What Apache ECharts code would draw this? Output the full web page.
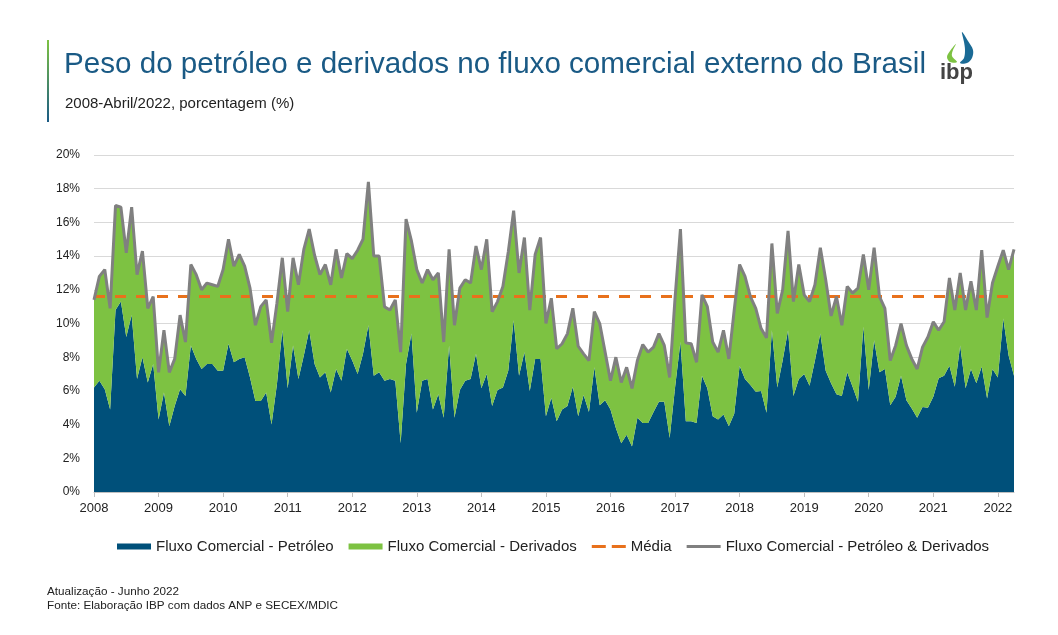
<!DOCTYPE html>
<html>
<head>
<meta charset="utf-8">
<script src="https://cdn.jsdelivr.net/npm/echarts@6/dist/echarts.min.js"></script>
<style>
html,body{margin:0;padding:0;background:#fff;}
#chart{width:1058px;height:635px;}
</style>
</head>
<body>
<div id="chart"></div>
<script>
// ---- data (monthly, Jan/2008 - Apr/2022, %) ----
const yearLabels = ['2008','2009','2010','2011','2012','2013','2014','2015','2016','2017','2018','2019','2020','2021','2022'];
const monthLabels = ['01','02','03','04','05','06','07','08','09','10','11','12'];
const lastPeriod = '2022-04';

const petroleo = [
 6.2,6.6,6.1,4.9,10.8,11.3,9.2,10.5,6.7,8.0,6.5,7.6,
 4.3,5.9,3.9,5.1,6.1,5.7,8.7,7.9,7.3,7.6,7.6,7.2,
 7.2,8.8,7.7,7.9,8.0,6.8,5.4,5.4,5.9,4.0,6.4,9.6,
 6.15,8.7,6.7,8.1,9.6,7.6,6.8,7.1,5.9,7.3,6.6,8.5,
 7.8,7.0,8.2,9.9,6.9,7.1,6.6,6.7,6.6,2.9,7.6,9.4,
 4.7,6.6,6.7,4.9,5.8,4.4,8.7,4.4,6.05,6.6,6.7,8.2,
 6.15,7.0,5.1,6.05,6.2,7.2,10.2,6.9,8.3,6.0,7.9,7.9,
 4.5,5.6,4.2,4.9,5.1,6.25,4.5,5.75,4.75,7.4,5.15,5.45,
 4.9,3.8,2.9,3.4,2.7,4.4,4.1,4.1,4.75,5.35,5.35,3.2,
 6.2,8.9,4.2,4.2,4.1,6.9,6.15,4.5,4.3,4.6,3.9,4.65,
 7.5,6.7,6.35,5.95,6.0,4.7,9.6,6.2,7.8,9.6,5.7,6.7,
 7.0,6.3,7.8,9.4,7.2,6.45,5.8,5.7,7.1,6.25,5.35,9.8,
 6.05,9.0,7.1,7.3,5.15,5.65,6.9,5.45,4.95,4.4,5.05,5.0,
 5.65,6.75,6.9,7.5,6.25,8.7,6.15,7.3,6.45,7.45,5.55,7.3,
 6.8,10.3,8.1,6.9
];
const derivados = [
 5.2,6.2,7.1,6.0,6.2,5.6,5.0,6.4,6.2,6.3,4.4,4.0,
 2.8,3.7,3.2,2.8,4.4,3.2,4.8,5.0,4.7,4.8,4.7,5.0,
 6.0,6.2,5.7,6.2,5.4,5.3,4.5,5.6,5.5,4.85,4.8,4.3,
 4.55,5.2,5.6,6.3,6.0,6.45,6.1,6.4,6.4,7.1,6.1,5.65,
 6.05,7.35,6.8,8.5,7.1,6.9,4.4,4.1,4.8,5.4,8.6,5.5,
 8.5,5.8,6.5,7.7,7.2,4.5,5.7,5.5,6.05,6.0,5.7,6.4,
 7.05,8.0,5.6,5.25,6.0,7.05,6.5,6.1,6.8,4.8,6.2,7.2,
 5.5,5.9,4.3,3.9,4.3,4.65,4.15,2.45,3.05,3.3,4.85,2.85,
 1.7,4.2,3.6,4.0,3.45,3.4,4.65,4.2,3.85,4.05,3.35,3.6,
 5.3,6.7,4.65,4.6,3.6,4.8,4.85,4.4,4.0,5.0,4.0,6.15,
 6.0,6.1,5.25,4.95,3.7,4.45,5.15,4.4,4.2,5.9,5.6,6.8,
 4.7,5.0,4.5,5.1,5.4,4.0,5.8,4.2,5.1,5.55,6.75,4.3,
 5.95,5.5,4.5,3.6,2.65,3.05,3.1,3.25,2.95,2.9,3.55,4.2,
 4.45,2.85,3.2,5.2,4.55,4.3,4.65,5.2,4.35,6.9,4.8,5.1,
 6.6,4.05,5.1,7.5
];
const total = [
 11.4,12.8,13.2,10.9,17.0,16.9,14.2,16.9,12.9,14.3,10.9,11.6,
 7.1,9.6,7.1,7.9,10.5,8.9,13.5,12.9,12.0,12.4,12.3,12.2,
 13.2,15.0,13.4,14.1,13.4,12.1,9.9,11.0,11.4,8.85,11.2,13.9,
 10.7,13.9,12.3,14.4,15.6,14.05,12.9,13.5,12.3,14.4,12.7,14.15,
 13.85,14.35,15.0,18.4,14.0,14.0,11.0,10.8,11.4,8.3,16.2,14.9,
 13.2,12.4,13.2,12.6,13.0,8.9,14.4,9.9,12.1,12.6,12.4,14.6,
 13.2,15.0,10.7,11.3,12.2,14.25,16.7,13.0,15.1,10.8,14.1,15.1,
 10.0,11.5,8.5,8.8,9.4,10.9,8.65,8.2,7.8,10.7,10.0,8.3,
 6.6,8.0,6.5,7.4,6.15,7.8,8.75,8.3,8.6,9.4,8.7,6.8,
 11.5,15.6,8.85,8.8,7.7,11.7,11.0,8.9,8.3,9.6,7.9,10.8,
 13.5,12.8,11.6,10.9,9.7,9.15,14.75,10.6,12.0,15.5,11.3,13.5,
 11.7,11.3,12.3,14.5,12.6,10.45,11.6,9.9,12.2,11.8,12.1,14.1,
 12.0,14.5,11.6,10.9,7.8,8.7,10.0,8.7,7.9,7.3,8.6,9.2,
 10.1,9.6,10.1,12.7,10.8,13.0,10.8,12.5,10.8,14.35,10.35,12.4,
 13.4,14.35,13.2,14.4
];
const media = 11.6;
const yTicks = [0,2,4,6,8,10,12,14,16,18,20];

// month categories
const categories = [];
for (const y of yearLabels) {
  for (const m of monthLabels) {
    const p = y + '-' + m;
    if (p > lastPeriod) break;
    categories.push(p);
  }
}

const C_BLUE = '#00507a';
const C_GREEN = '#7dc242';
const C_ORANGE = '#e8711c';
const C_GRAY = '#808080';
const FONT = 'Liberation Sans';

const ICON_LINE = 'path://M0,0 L0.01,0 L0.01,0.01 Z M0,1.5 L34,1.5 L34,4.5 L0,4.5 Z M33.99,5.99 L34,5.99 L34,6 Z';
const ICON_DASH = 'path://M0,0 L0.01,0 L0.01,0.01 Z M0,1.5 L14,1.5 L14,4.5 L0,4.5 Z M20,1.5 L34,1.5 L34,4.5 L20,4.5 Z M33.99,5.99 L34,5.99 L34,6 Z';

const chart = echarts.init(document.getElementById('chart'), null, {renderer:'canvas'});
const option = {
  backgroundColor: '#ffffff',
  animation: false,
  textStyle: {fontFamily: FONT},
  graphic: [
    {type:'rect', x:47, y:40, shape:{x:0, y:0, width:2, height:82},
     style:{fill:new echarts.graphic.LinearGradient(0,0,0,1,[{offset:0,color:C_GREEN},{offset:1,color:'#1a5a85'}])}},
    {type:'text', x:64, y:50, style:{text:'Peso do petróleo e derivados no fluxo comercial externo do Brasil', fill:'#1a5a85', font:'29.6px "Liberation Sans"'}},
    {type:'text', x:65, y:96, style:{text:'2008-Abril/2022, porcentagem (%)', fill:'#222', font:'15px "Liberation Sans"'}},
    {type:'text', x:47, y:586, style:{text:'Atualização - Junho 2022', fill:'#222', font:'11.7px "Liberation Sans"'}},
    {type:'text', x:47, y:600, style:{text:'Fonte: Elaboração IBP com dados ANP e SECEX/MDIC', fill:'#222', font:'11.7px "Liberation Sans"'}},
    // logo
    {type:'polygon', shape:{smooth:0.35, points:[[962,32],[968,41],[973,50],[972,58],[967,63],[960,63],[964,58],[965,50],[964,42]]}, style:{fill:'#1a6a95'}},
    {type:'polygon', shape:{smooth:0.35, points:[[956,44],[950,51],[947,57],[950,62],[957,62],[952,56],[953,50]]}, style:{fill:C_GREEN}},
    {type:'text', x:940, y:62, style:{text:'ibp', fill:'#444', font:'bold 22px "Liberation Sans"'}}
  ],
  grid: {left:94, right:44, top:155, bottom:143, containLabel:false},
  legend: {
    left: 112, top: 534,
    itemWidth: 34, itemHeight: 6, itemGap: 15,
    textStyle: {fontSize: 15, color:'#222', fontFamily: FONT},
    data: [
      {name:'Fluxo Comercial - Petróleo', icon:'rect'},
      {name:'Fluxo Comercial - Derivados', icon:'rect'},
      {name:'Média', icon: ICON_DASH},
      {name:'Fluxo Comercial - Petróleo & Derivados', icon: ICON_LINE}
    ]
  },
  xAxis: {
    type:'category', data: categories, boundaryGap:false,
    axisLine:{show:true, lineStyle:{color:'#bfbfbf', width:1}},
    axisTick:{show:true, length:5, interval:(i)=> i % 12 === 0, lineStyle:{color:'#bfbfbf'}},
    axisLabel:{interval:(i)=> i % 12 === 0, formatter:(v)=> v.slice(0,4), color:'#222', fontSize:13, margin:10},
    splitLine:{show:false}
  },
  yAxis: {
    type:'value', min:yTicks[0], max:yTicks[yTicks.length-1], interval:2,
    axisLine:{show:false}, axisTick:{show:false},
    axisLabel:{formatter:'{value}%', color:'#222', fontSize:12, margin:14},
    splitLine:{lineStyle:{color:'#d9d9d9', width:1}}
  },
  series: [
    {name:'Fluxo Comercial - Petróleo', type:'line', stack:'fluxo', data: petroleo, symbol:'none',
     itemStyle:{color:C_BLUE}, lineStyle:{width:0, opacity:0}, areaStyle:{color:C_BLUE, opacity:1}},
    {name:'Fluxo Comercial - Derivados', type:'line', stack:'fluxo', data: derivados, symbol:'none',
     itemStyle:{color:C_GREEN}, lineStyle:{width:0, opacity:0}, areaStyle:{color:C_GREEN, opacity:1}},
    {name:'Média', type:'line', data: [], symbol:'none',
     itemStyle:{color:C_ORANGE}, lineStyle:{color:C_ORANGE, width:3, type:[11,10]},
     markLine:{silent:true, symbol:'none', label:{show:false},
       lineStyle:{color:C_ORANGE, width:3, type:[11,10]},
       data:[{yAxis: media}]}},
    {name:'Fluxo Comercial - Petróleo & Derivados', type:'line', data: total, symbol:'none',
     itemStyle:{color:C_GRAY}, lineStyle:{color:C_GRAY, width:3}, z:5}
  ]
};
chart.setOption(option);
</script>
</body>
</html>
